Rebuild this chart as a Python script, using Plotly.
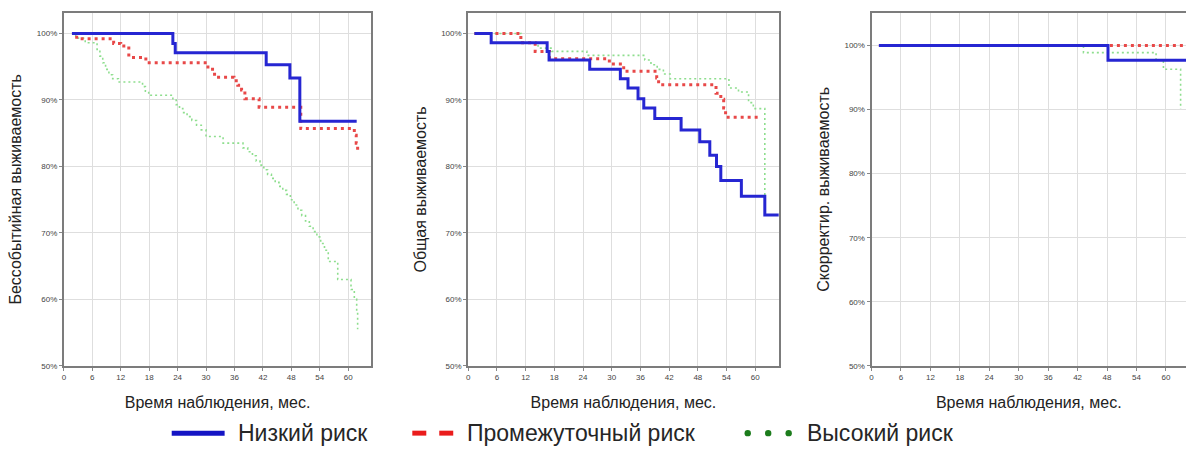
import plotly.graph_objects as go

W, H = 1186, 451

# ---------------- data ----------------
month_ticks = [0, 6, 12, 18, 24, 30, 36, 42, 48, 54, 60]
pct_ticks = [50, 60, 70, 80, 90, 100]
pct_labels = ["50%", "60%", "70%", "80%", "90%", "100%"]

group_names = ["Низкий риск", "Промежуточный риск", "Высокий риск"]
panel_titles = ["Бессобытийная выживаемость", "Общая выживаемость", "Скорректир. выживаемость"]
x_title = "Время наблюдения, мес."

# Panel 1: event-free survival
efs_low_t = [1.7, 23.0, 23.5, 42.7, 47.7, 49.8, 61.8]
efs_low_s = [100, 98.5, 97.1, 95.3, 93.3, 86.8, 86.8]
efs_mid_t = [1.7, 2.7, 10.5, 12.0, 13.7, 17.3, 30.4, 31.8, 35.9, 36.7, 37.5, 38.2, 41.2, 50.0, 61.3, 61.7, 62.0]
efs_mid_s = [100, 99.2, 98.5, 98.1, 96.4, 95.6, 94.6, 93.4, 92.9, 92.2, 91.5, 90.2, 88.9, 85.7, 84.7, 83.5, 82.3]
efs_high_t = [1.7, 2.5, 4.5, 7.0, 7.6, 8.2, 8.8, 9.5, 10.3, 11.5, 16.6, 17.2, 17.9, 23.0, 23.7, 24.4,
              25.1, 26.0, 27.0, 28.0, 29.0, 30.0, 33.6, 37.8, 38.8, 39.8, 40.6, 41.4, 42.2, 43.0, 43.8,
              44.6, 45.4, 46.2, 47.0, 47.8, 48.6, 49.4, 50.2, 51.0, 51.8, 52.6, 53.4, 54.2, 55.0, 55.8,
              57.8, 60.6, 61.3, 61.8, 62.0]
efs_high_s = [100, 99.3, 98.6, 97.6, 96.6, 95.6, 94.6, 93.8, 93.2, 92.7, 92.0, 91.3, 90.7, 90.0, 89.3, 88.7,
              88.1, 87.5, 86.9, 86.2, 85.5, 84.5, 83.5, 82.8, 82.2, 81.6, 80.8, 80.2, 79.5, 78.8, 78.2,
              77.6, 77.0, 76.4, 75.8, 75.0, 74.2, 73.4, 72.6, 71.8, 71.0, 70.2, 69.4, 68.4, 67.4, 65.7,
              63.0, 61.5, 60.0, 58.0, 55.5]

# Panel 2: overall survival
os_low_t = [1.3, 4.8, 16.5, 16.9, 25.4, 31.8, 33.4, 35.5, 36.7, 39.0, 44.5, 48.4, 50.5, 51.9, 52.8, 57.1, 62.0, 65.0]
os_low_s = [100, 98.6, 97.3, 96.0, 94.6, 93.2, 91.8, 90.2, 88.8, 87.2, 85.5, 83.7, 81.7, 80.0, 77.9, 75.5, 72.7, 72.7]
os_mid_t = [1.3, 11.0, 14.0, 17.0, 29.5, 32.5, 39.4, 39.8, 51.8, 52.8, 53.4, 53.8, 60.6]
os_mid_s = [100, 98.6, 97.3, 96.2, 95.4, 94.3, 93.3, 92.3, 91.0, 90.1, 88.8, 87.4, 87.4]
os_high_t = [1.3, 11.1, 14.6, 17.5, 24.8, 36.9, 38.2, 39.5, 40.8, 42.2, 54.5, 56.5, 58.6, 59.6, 62.0]
os_high_s = [100, 98.6, 97.8, 97.3, 96.7, 96.0, 95.3, 94.6, 93.9, 93.2, 91.8, 91.2, 89.6, 88.7, 75.6]

# Panel 3: adjusted survival
adj_low_t = [1.5, 48.2, 64.5]
adj_low_s = [100, 97.7, 97.7]
adj_mid_t = [1.5, 64.5]
adj_mid_s = [100, 100]
adj_high_t = [1.5, 43.2, 58.0, 59.5, 63.0]
adj_high_s = [100, 98.9, 97.7, 96.3, 90.1]

# ---------------- styles ----------------
BLUE = "#2626d2"
RED = "#e84848"
GREEN = "#8ede8e"
FONT = "Liberation Sans, Arial, sans-serif"

panels = [
    (efs_low_t, efs_low_s, efs_mid_t, efs_mid_s, efs_high_t, efs_high_s),
    (os_low_t, os_low_s, os_mid_t, os_mid_s, os_high_t, os_high_s),
    (adj_low_t, adj_low_s, adj_mid_t, adj_mid_s, adj_high_t, adj_high_s),
]

fig = go.Figure()
for i, (lt, ls, mt, ms, ht, hs) in enumerate(panels):
    xa = "x" if i == 0 else f"x{i+1}"
    ya = "y" if i == 0 else f"y{i+1}"
    fig.add_trace(go.Scatter(x=ht, y=hs, mode="lines", line_shape="hv", xaxis=xa, yaxis=ya,
                             line=dict(color=GREEN, width=1.6, dash="2px,3px"),
                             name=group_names[2], showlegend=False))
    fig.add_trace(go.Scatter(x=mt, y=ms, mode="lines", line_shape="hv", xaxis=xa, yaxis=ya,
                             line=dict(color=RED, width=3, dash="3px,4px"),
                             name=group_names[1], showlegend=False))
    fig.add_trace(go.Scatter(x=lt, y=ls, mode="lines", line_shape="hv", xaxis=xa, yaxis=ya,
                             line=dict(color=BLUE, width=3),
                             name=group_names[0], showlegend=False))

ydom = [1 - 370 / H, 1 - 13 / H]
xdoms = [[62 / W, 370 / W], [467 / W, 778 / W], [871 / W, 1.0]]
xranges = [[0, 64.9], [0, 64.9], [0, 64.1]]
yranges = [[50, 103.1], [50, 103.1], [50, 105.1]]

common_axis = dict(showline=True, linecolor="#7c7c7c", linewidth=2, showgrid=True,
                   gridcolor="#dedede", gridwidth=1, zeroline=False, ticks="outside",
                   ticklen=3, tickcolor="#888", tickfont=dict(size=8, color="#444", family=FONT))

layout = dict(width=W, height=H, margin=dict(l=0, r=0, t=0, b=0),
              paper_bgcolor="white", plot_bgcolor="white", showlegend=False,
              font=dict(family=FONT))
for i in range(3):
    sx = "" if i == 0 else str(i + 1)
    layout["xaxis" + sx] = dict(common_axis, domain=xdoms[i], range=xranges[i], anchor="y" + sx,
                                tickvals=month_ticks, mirror=True,
                                title=dict(text=x_title, font=dict(size=16, color="#222"), standoff=15))
    layout["yaxis" + sx] = dict(common_axis, domain=ydom, range=yranges[i], anchor="x" + sx,
                                tickvals=pct_ticks, ticktext=pct_labels, mirror=(i < 2),
                                title=dict(text=panel_titles[i], font=dict(size=16, color="#222"), standoff=11))
fig.update_layout(**layout)

# ---------------- legend (drawn manually) ----------------
def px(x):
    return x / W

def py(y):
    return 1 - y / H

ly = 438
shapes = [
    dict(type="line", xref="paper", yref="paper", x0=px(170), x1=px(223), y0=py(ly), y1=py(ly),
         line=dict(color="#1414c4", width=5)),
    dict(type="rect", xref="paper", yref="paper", x0=px(411), x1=px(425), y0=py(ly - 2.5), y1=py(ly + 2.5),
         fillcolor="#ea1c1c", line=dict(width=0)),
    dict(type="rect", xref="paper", yref="paper", x0=px(438), x1=px(452), y0=py(ly - 2.5), y1=py(ly + 2.5),
         fillcolor="#ea1c1c", line=dict(width=0)),
]
for cx in (747, 767.5, 788):
    shapes.append(dict(type="circle", xref="paper", yref="paper", x0=px(cx - 3.2), x1=px(cx + 3.2),
                       y0=py(ly + 3.2), y1=py(ly - 3.2), fillcolor="#1c7c1c", line=dict(width=0)))
fig.update_layout(shapes=shapes)

for xs, txt in ((234, group_names[0]), (464, group_names[1]), (804, group_names[2])):
    fig.add_annotation(xref="paper", yref="paper", x=px(xs), y=py(ly), text=txt, showarrow=False,
                       xanchor="left", yanchor="middle", font=dict(size=23, color="#262626", family=FONT))

fig.write_html("out.html", config={"displayModeBar": False},
               post_script="document.body.style.margin='0';document.body.style.overflow='hidden';")
